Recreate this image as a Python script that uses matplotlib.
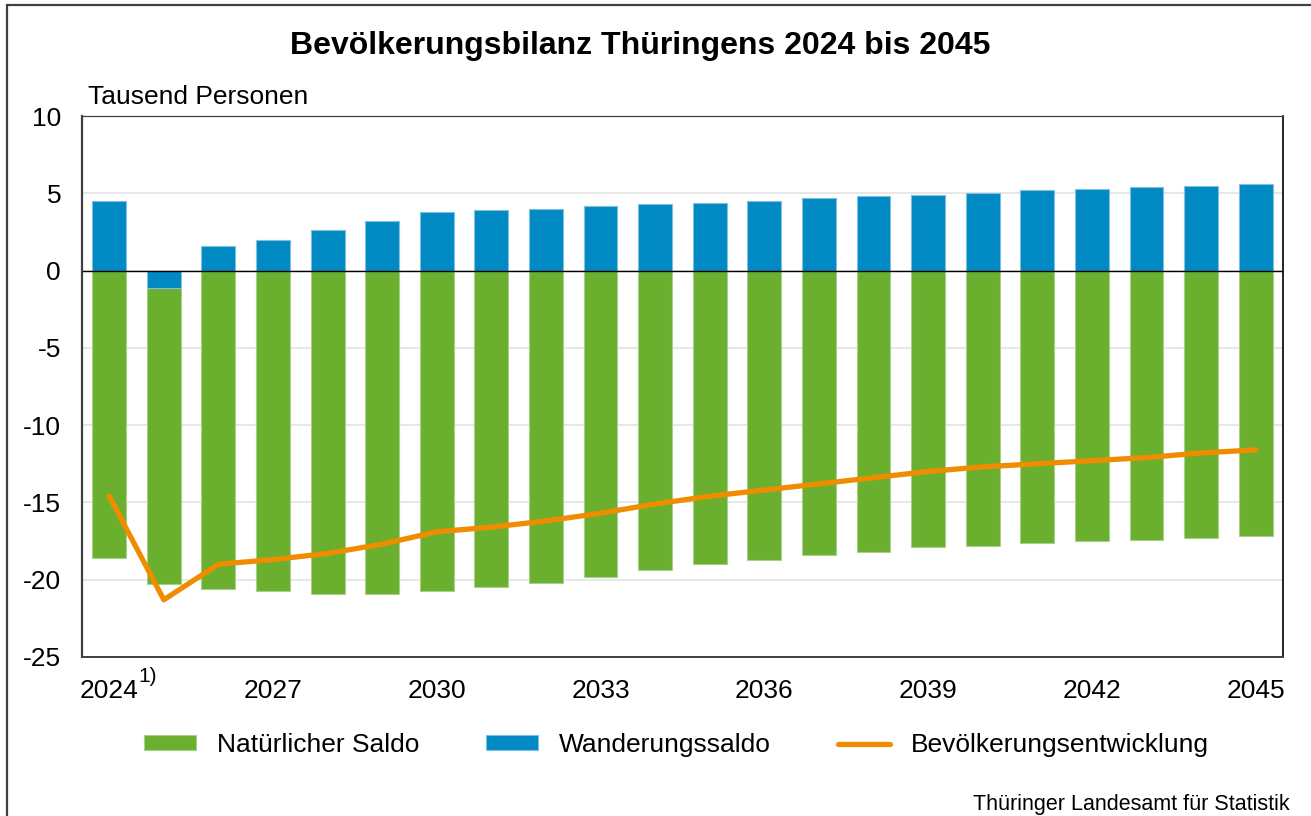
import numpy as np
import matplotlib.pyplot as plt
from matplotlib.patches import Rectangle

plt.rcParams['font.family'] = ['Liberation Sans', 'DejaVu Sans']

# data (Tausend Personen)
years = list(range(2024, 2046))
wanderung = [4.5, -1.1, 1.6, 2.0, 2.6, 3.2, 3.8, 3.9, 4.0, 4.2, 4.3, 4.4,
             4.5, 4.7, 4.8, 4.9, 5.0, 5.2, 5.3, 5.4, 5.5, 5.6]
natuerlich = [-18.6, -19.2, -20.6, -20.7, -20.9, -20.9, -20.7, -20.5, -20.2, -19.8, -19.4, -19.0,
              -18.7, -18.4, -18.2, -17.9, -17.8, -17.6, -17.5, -17.4, -17.3, -17.2]
entwicklung = [-14.6, -21.3, -19.0, -18.7, -18.3, -17.7, -16.9, -16.6, -16.2, -15.7, -15.1, -14.6,
               -14.2, -13.8, -13.4, -13.0, -12.7, -12.5, -12.3, -12.1, -11.8, -11.6]
xtick_years = [2024, 2027, 2030, 2033, 2036, 2039, 2042, 2045]

c_green = '#6BAF2F'
c_blue = '#0089C2'
c_orange = '#F08C00'

x = np.arange(len(years))
wand = np.array(wanderung)
nat = np.array(natuerlich)
nat_bottom = np.where(wand < 0, wand, 0)

fig = plt.figure(figsize=(13.11, 8.16), dpi=100)
ax = fig.add_axes([0.0625, 0.1949, 0.9161, 0.6629])

b_nat = ax.bar(x, nat, 0.62, bottom=nat_bottom, color=c_green, edgecolor='#A8D08A',
               linewidth=0.8, label='Natürlicher Saldo', zorder=2)
b_wand = ax.bar(x, wand, 0.62, color=c_blue, edgecolor='#7FC0E0', linewidth=0.8,
                label='Wanderungssaldo', zorder=2)
l_ent, = ax.plot(x, entwicklung, color=c_orange, linewidth=3.8, solid_capstyle='round',
                 label='Bevölkerungsentwicklung', zorder=3)

ax.set_xlim(-0.5, len(years) - 0.5)
ax.set_ylim(-25, 10)
ax.set_yticks(np.arange(-25, 11, 5))
ax.set_yticklabels([str(v) for v in range(-25, 11, 5)])
ax.set_xticks([years.index(y) for y in xtick_years])
ax.set_xticklabels([str(y) for y in xtick_years])
ax.tick_params(axis='both', length=0, labelsize=19)
ax.tick_params(axis='y', pad=15)
ax.tick_params(axis='x', pad=16)

ax.grid(axis='y', color='#E3E3E3', linewidth=1.2, zorder=0)
ax.set_axisbelow(True)
ax.axhline(0, color='black', linewidth=1.0, zorder=2.5)

for side in ['left', 'bottom', 'top']:
    ax.spines[side].set_color('#404040')
ax.spines['left'].set_linewidth(1.6)
ax.spines['bottom'].set_linewidth(1.4)
ax.spines['top'].set_linewidth(0.9)
ax.spines['right'].set_color('black')
ax.spines['right'].set_linewidth(1.2)

# footnote marker on first year
fig.text(138 / 1311, 1 - 676 / 816, '1)', fontsize=15, ha='left', va='center')

fig.text(0.488, 1 - 54 / 816, 'Bevölkerungsbilanz Thüringens 2024 bis 2045',
         fontsize=23, fontweight='bold', ha='center', va='baseline')
fig.text(88 / 1311, 1 - 104 / 816, 'Tausend Personen', fontsize=19, ha='left', va='baseline')
fig.text(1290 / 1311, 1 - 810 / 816, 'Thüringer Landesamt für Statistik',
         fontsize=15.5, ha='right', va='baseline')

fig.legend([b_nat, b_wand, l_ent],
           ['Natürlicher Saldo', 'Wanderungssaldo', 'Bevölkerungsentwicklung'],
           loc='center', bbox_to_anchor=(0.516, 1 - 745 / 816), ncol=3, frameon=False,
           fontsize=19, handlelength=1.95, handleheight=0.5, handletextpad=0.8,
           columnspacing=2.55)

# outer frame (cropped at right and bottom)
fig.patches.append(Rectangle((7 / 1311, -0.05), 1.2, 1 - 5 / 816 + 0.05,
                             transform=fig.transFigure, fill=False,
                             edgecolor='#404040', linewidth=1.6))

fig.savefig('out.png', dpi=100)
